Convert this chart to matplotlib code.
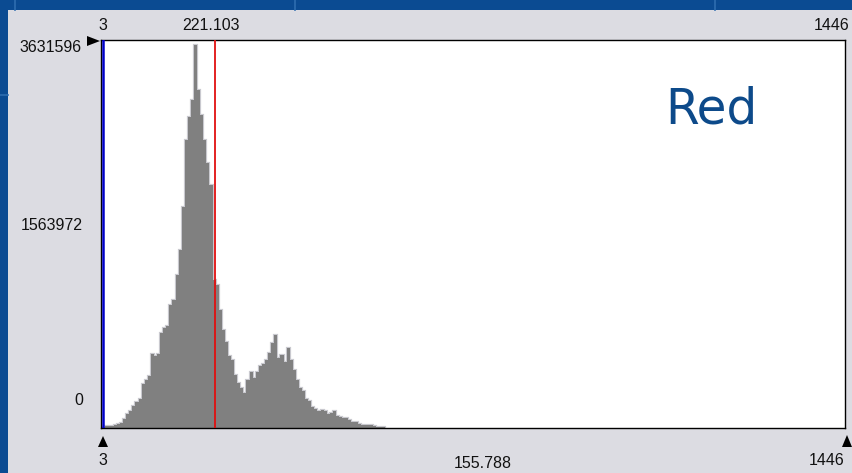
import numpy as np
import matplotlib.pyplot as plt
from matplotlib.patches import Rectangle, Polygon

# histogram of the red channel, 6 levels per bin starting at 0
bin_width = 6
counts = [9360, 18720, 18720, 18720, 28080, 37440, 46800, 84240, 131040, 159120,
          205920, 243360, 271440, 411840, 449280, 486720, 692640, 673920, 692640, 889200,
          936000, 954720, 1151280, 1198080, 1432080, 1666080, 2068560, 2695680, 2910960, 3070080,
          3575520, 3163680, 2929680, 2695680, 2480400, 2274480, 1385280, 1338480, 1104480, 917280,
          804960, 673920, 636480, 496080, 421200, 374400, 327600, 449280, 524160, 468000,
          524160, 580320, 599040, 636480, 702000, 795600, 870480, 655200, 683280, 617760,
          748800, 636480, 542880, 449280, 374400, 346320, 271440, 252720, 196560, 177840,
          159120, 168480, 159120, 131040, 140400, 159120, 112320, 102960, 93600, 93600,
          74880, 56160, 56160, 37440, 28080, 28080, 28080, 28080, 18720, 9360,
          9360, 9360]

x_lo, x_hi = 3, 1446
marker = 221.103
mean_text = "155.788"
y_max = 3631596
y_mid = 1563972
title = "Red"

W, H = 853, 473


def fx(x):
    return x / W


def fy(y):
    return 1 - y / H


fig = plt.figure(figsize=(W / 100, H / 100), dpi=100, facecolor="#0b4b92")

# faint slide grid on the blue background
for gx in [15, 295, 715]:
    fig.add_artist(plt.Line2D([fx(gx), fx(gx)], [fy(0), fy(10)], color="#2f6db0", lw=1.2))
for gy in [95]:
    fig.add_artist(plt.Line2D([0, fx(8)], [fy(gy), fy(gy)], color="#2f6db0", lw=1.2))

# grey window panel
fig.add_artist(Rectangle((fx(8), 0), 1 - fx(8), fy(10), transform=fig.transFigure,
                         facecolor="#dcdce2", edgecolor="none", zorder=0))

ax = fig.add_axes([fx(101.5), fy(428), (845.5 - 101.5) / W, (428 - 39.5) / H])
ax.set_facecolor("white")
ax.set_xlim(0, 1447)
ax.set_ylim(0, y_max)

edges = np.arange(len(counts) + 1) * bin_width
ax.stairs(counts, edges, fill=False, color="#c9c9cf", lw=1.6, zorder=1)
ax.stairs(counts, edges, fill=True, color="#808080", zorder=2)

ax.axvline(x_lo, color="#0000c8", lw=1.8, zorder=3)
ax.axvline(marker, color="#e01010", lw=1.3, zorder=3)

ax.set_xticks([])
ax.set_yticks([])
for s in ax.spines.values():
    s.set_color("black")
    s.set_linewidth(1.0)

ax.text(0.758, 0.783, title, transform=ax.transAxes, color="#0d4a8a",
        fontsize=35, family="DejaVu Sans", ha="left", va="baseline")

num = dict(family="Liberation Sans", fontsize=11.5, color="#111111")
fig.text(fx(103), fy(25), str(x_lo), ha="center", va="center", **num)
fig.text(fx(211), fy(25), f"{marker:.3f}", ha="center", va="center", **num)
fig.text(fx(850), fy(25), str(x_hi), ha="right", va="center", **num)
fig.text(fx(82), fy(47), str(y_max), ha="right", va="center", **num)
fig.text(fx(83), fy(225), str(y_mid), ha="right", va="center", **num)
fig.text(fx(83), fy(400), "0", ha="right", va="center", **num)
fig.text(fx(103), fy(460), str(x_lo), ha="center", va="center", **num)
fig.text(fx(483), fy(463), mean_text, ha="center", va="center", **num)
fig.text(fx(845), fy(460), str(x_hi), ha="right", va="center", **num)

# slider arrows
for pts in [[(87, 36), (87, 46), (100, 41)],
            [(98, 447), (108, 447), (103, 436)],
            [(842, 447), (852, 447), (847, 435)]]:
    fig.add_artist(Polygon([(fx(a), fy(b)) for a, b in pts], closed=True,
                           transform=fig.transFigure, facecolor="black", edgecolor="none"))

fig.savefig("out.png", dpi=100, facecolor=fig.get_facecolor())
